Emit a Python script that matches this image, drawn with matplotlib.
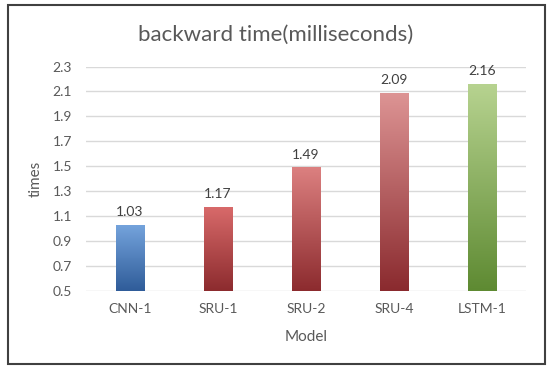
import matplotlib
matplotlib.use("Agg")
import matplotlib.pyplot as plt
import numpy as np
from matplotlib.colors import LinearSegmentedColormap
from matplotlib.patches import Rectangle

categories = ["CNN-1", "SRU-1", "SRU-2", "SRU-4", "LSTM-1"]
values = [1.03, 1.17, 1.49, 2.09, 2.16]
value_labels = ["1.03", "1.17", "1.49", "2.09", "2.16"]
yticks = [0.5, 0.7, 0.9, 1.1, 1.3, 1.5, 1.7, 1.9, 2.1, 2.3]
ytick_labels = ["0.5", "0.7", "0.9", "1.1", "1.3", "1.5", "1.7", "1.9", "2.1", "2.3"]

# gradient (top colour, bottom colour) per bar
grads = [("#74a3dc", "#2f5c99"),
         ("#d86a6a", "#8c2b2e"),
         ("#dc8080", "#8c2b2e"),
         ("#dd9494", "#8a2a2e"),
         ("#b7d390", "#5e8a32")]

plt.rcParams['font.family'] = ['Lato', 'DejaVu Sans']
txt = "#595959"

fig = plt.figure(figsize=(5.52, 3.68), dpi=100)
ax = fig.add_axes([86/552, 1-290.7/368, 440/552, 224.1/368])

x = np.arange(len(categories))
bars = ax.bar(x, values, width=0.32, bottom=0, color="none", zorder=3)
ax.set_xlim(-0.5, len(categories) - 0.5)
ax.set_ylim(0.5, 2.3)

for b, (top, bot) in zip(bars, grads):
    cmap = LinearSegmentedColormap.from_list("g", [bot, top])
    x0, w = b.get_x(), b.get_width()
    h = b.get_height()
    grad = np.linspace(0, 1, 256).reshape(-1, 1)
    im = ax.imshow(grad, cmap=cmap, aspect="auto", origin="lower",
                   extent=[x0, x0 + w, 0.5, h], zorder=3)
    clip = Rectangle((x0, 0.5), w, h - 0.5, transform=ax.transData)
    im.set_clip_path(clip)

ax.set_xlim(-0.5, len(categories) - 0.5)
ax.set_ylim(0.5, 2.3)

for xi, v, lab in zip(x, values, value_labels):
    ax.annotate(lab, (xi, v), xytext=(0, 5), textcoords="offset points",
                ha="center", va="bottom", fontsize=10, color="#404040", zorder=4)

ax.set_yticks(yticks)
ax.set_yticklabels(ytick_labels)
ax.set_xticks(x)
ax.set_xticklabels(categories)
ax.tick_params(axis="both", length=0, labelsize=10, labelcolor=txt)
ax.tick_params(axis="x", pad=9)
ax.tick_params(axis="y", pad=10)
ax.grid(axis="y", color="#d9d9d9", linewidth=1, zorder=0)
ax.set_axisbelow(True)
for s in ax.spines.values():
    s.set_visible(False)

ax.set_xlabel("Model", fontsize=11, color=txt, labelpad=11)
ax.set_ylabel("times", fontsize=11, color=txt, labelpad=7)
fig.text(276/552, 1-35/368, "backward time(milliseconds)", ha="center", va="center",
         fontsize=16, color=txt)

fig.patches.append(Rectangle((7.5/552, 1-363.5/368), 537/552, 359/368,
                             transform=fig.transFigure, fill=False,
                             edgecolor="#404040", linewidth=1.5))

fig.savefig("out.png", dpi=100)
